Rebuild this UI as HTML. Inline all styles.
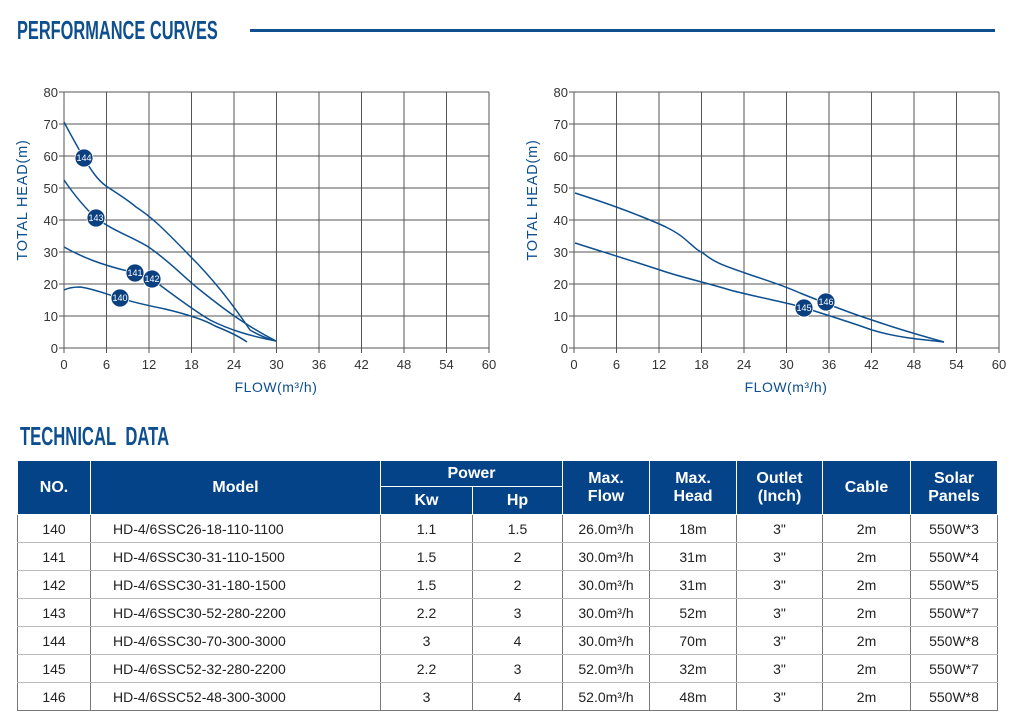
<!DOCTYPE html>
<html><head><meta charset="utf-8"><style>
body{margin:0;width:1027px;height:722px;background:#fff;position:relative;overflow:hidden;font-family:"Liberation Sans",sans-serif}
.t{position:absolute;color:#0d4f8f;font-family:"Liberation Sans",sans-serif;font-weight:bold;font-size:26px;transform-origin:0 0;white-space:nowrap}
table{position:absolute;left:17px;top:460px;border-collapse:collapse;table-layout:fixed;width:980px}
td,th{font-size:14px;text-align:center;padding:0;color:#222}
th{background:#044387;color:#fff;font-size:16px;font-weight:bold;border:1.5px solid #fff;line-height:18px}
td{height:27px;border-bottom:1px solid #bbb;border-left:1px solid #777;border-right:1px solid #777}
tr:last-child td{border-bottom:1px solid #777}
td.m{text-align:left;padding-left:22px}
</style></head><body>
<div class="t" style="left:17px;top:15px;transform:scaleX(0.63)">PERFORMANCE CURVES</div>
<div style="position:absolute;left:250px;top:29px;width:745px;height:3px;background:#0d4f8f"></div>
<div class="t" style="left:20px;top:421px;transform:scaleX(0.64)">TECHNICAL&nbsp;&nbsp;DATA</div>
<svg width="1027" height="410" style="position:absolute;left:0;top:0" font-family="Liberation Sans,sans-serif">
<defs>
<g id="grid" stroke="#555" stroke-width="1" fill="none">
<path d="M0 92H425M0 124H425M0 156H425M0 188H425M0 220H425M0 252H425M0 284H425M0 316H425M0 348H425"/>
<path d="M0 92V348M42.5 92V348M85 92V348M127.5 92V348M170 92V348M212.5 92V348M255 92V348M297.5 92V348M340 92V348M382.5 92V348M425 92V348"/>
<path d="M-5 92H0M-5 124H0M-5 156H0M-5 188H0M-5 220H0M-5 252H0M-5 284H0M-5 316H0M-5 348H0M0 348V353M42.5 348V353M85 348V353M127.5 348V353M170 348V353M212.5 348V353M255 348V353M297.5 348V353M340 348V353M382.5 348V353M425 348V353"/>
</g>
<g id="lab" font-size="13" fill="#333">
<g text-anchor="end"><text x="-6" y="97">80</text><text x="-6" y="129">70</text><text x="-6" y="161">60</text><text x="-6" y="193">50</text><text x="-6" y="225">40</text><text x="-6" y="257">30</text><text x="-6" y="289">20</text><text x="-6" y="321">10</text><text x="-6" y="353">0</text></g>
<g text-anchor="middle"><text x="0" y="369">0</text><text x="42.5" y="369">6</text><text x="85" y="369">12</text><text x="127.5" y="369">18</text><text x="170" y="369">24</text><text x="212.5" y="369">30</text><text x="255" y="369">36</text><text x="297.5" y="369">42</text><text x="340" y="369">48</text><text x="382.5" y="369">54</text><text x="425" y="369">60</text></g>
<text x="212" y="392" text-anchor="middle" font-size="14" fill="#0d4f8f" letter-spacing="0.5">FLOW(m³/h)</text>
<text transform="translate(-37,200) rotate(-90)" text-anchor="middle" font-size="14.5" fill="#0d4f8f" letter-spacing="0.8">TOTAL HEAD(m)</text>
</g>
</defs>
<g transform="translate(64,0)"><use href="#grid"/><use href="#lab"/></g>
<g transform="translate(574,0)"><use href="#grid"/><use href="#lab"/></g>
<g stroke="#0d4f8f" stroke-width="1.5" fill="none">
<path d="M64 122 C72 137 78 148 84 158 C92 172 98 180 106 186 C118 194 128 200 136 207 C150 216 160 225 190 256 C210 276 230 300 250 330 C260 336 268 339 276 341"/>
<path d="M64 180 C75 196 85 208 96 218 C115 232 135 238 150 248 C170 262 185 278 200 290 C225 310 245 325 276 341"/>
<path d="M64 247 C80 256 100 265 136 273 C145 276 150 278 153 280 C175 296 190 308 210 320 C230 330 250 336 276 341"/>
<path d="M64 290 C70 287 76 287 80 287 C95 289 105 294 120 298 C135 303 150 306 165 309 C190 315 205 320 215 326 C230 332 240 337 247 342"/>
<path d="M575 193 C600 201 620 208 640 216 C660 224 675 230 686 240 C694 247 698 251 703 253 C715 263 725 266 745 273 C765 280 780 284 800 293 C830 305 850 313 872 320 C895 328 915 334 944 342"/>
<path d="M575 243 C600 251 620 257 660 270 C680 277 700 281 730 290 C760 298 790 303 805 308 C830 316 850 322 872 330 C895 337 915 339 944 342"/>
</g>
<g fill="#0a3f80" stroke="#fff" stroke-width="0.8"><circle cx="84" cy="158" r="9"/><circle cx="96" cy="218" r="9"/><circle cx="135" cy="273" r="9"/><circle cx="152" cy="279" r="9"/><circle cx="120" cy="298" r="9"/><circle cx="826" cy="302" r="9"/><circle cx="804" cy="308" r="9"/></g>
<g fill="#fff" font-size="9" text-anchor="middle"><text x="84" y="161">144</text><text x="96" y="221">143</text><text x="135" y="276">141</text><text x="152" y="282">142</text><text x="120" y="301">140</text><text x="826" y="305">146</text><text x="804" y="311">145</text></g>
</svg>
<table>
<colgroup><col style="width:73px"><col style="width:290px"><col style="width:92px"><col style="width:90px"><col style="width:87px"><col style="width:87px"><col style="width:86px"><col style="width:88px"><col style="width:87px"></colgroup>
<tr style="height:26px"><th rowspan="2">NO.</th><th rowspan="2">Model</th><th colspan="2">Power</th><th rowspan="2">Max.<br>Flow</th><th rowspan="2">Max.<br>Head</th><th rowspan="2">Outlet<br>(Inch)</th><th rowspan="2">Cable</th><th rowspan="2">Solar<br>Panels</th></tr>
<tr style="height:28px"><th>Kw</th><th>Hp</th></tr>
<tr><td>140</td><td class="m">HD-4/6SSC26-18-110-1100</td><td>1.1</td><td>1.5</td><td>26.0m³/h</td><td>18m</td><td>3"</td><td>2m</td><td>550W*3</td></tr>
<tr><td>141</td><td class="m">HD-4/6SSC30-31-110-1500</td><td>1.5</td><td>2</td><td>30.0m³/h</td><td>31m</td><td>3"</td><td>2m</td><td>550W*4</td></tr>
<tr><td>142</td><td class="m">HD-4/6SSC30-31-180-1500</td><td>1.5</td><td>2</td><td>30.0m³/h</td><td>31m</td><td>3"</td><td>2m</td><td>550W*5</td></tr>
<tr><td>143</td><td class="m">HD-4/6SSC30-52-280-2200</td><td>2.2</td><td>3</td><td>30.0m³/h</td><td>52m</td><td>3"</td><td>2m</td><td>550W*7</td></tr>
<tr><td>144</td><td class="m">HD-4/6SSC30-70-300-3000</td><td>3</td><td>4</td><td>30.0m³/h</td><td>70m</td><td>3"</td><td>2m</td><td>550W*8</td></tr>
<tr><td>145</td><td class="m">HD-4/6SSC52-32-280-2200</td><td>2.2</td><td>3</td><td>52.0m³/h</td><td>32m</td><td>3"</td><td>2m</td><td>550W*7</td></tr>
<tr><td>146</td><td class="m">HD-4/6SSC52-48-300-3000</td><td>3</td><td>4</td><td>52.0m³/h</td><td>48m</td><td>3"</td><td>2m</td><td>550W*8</td></tr>
</table>
</body></html>
